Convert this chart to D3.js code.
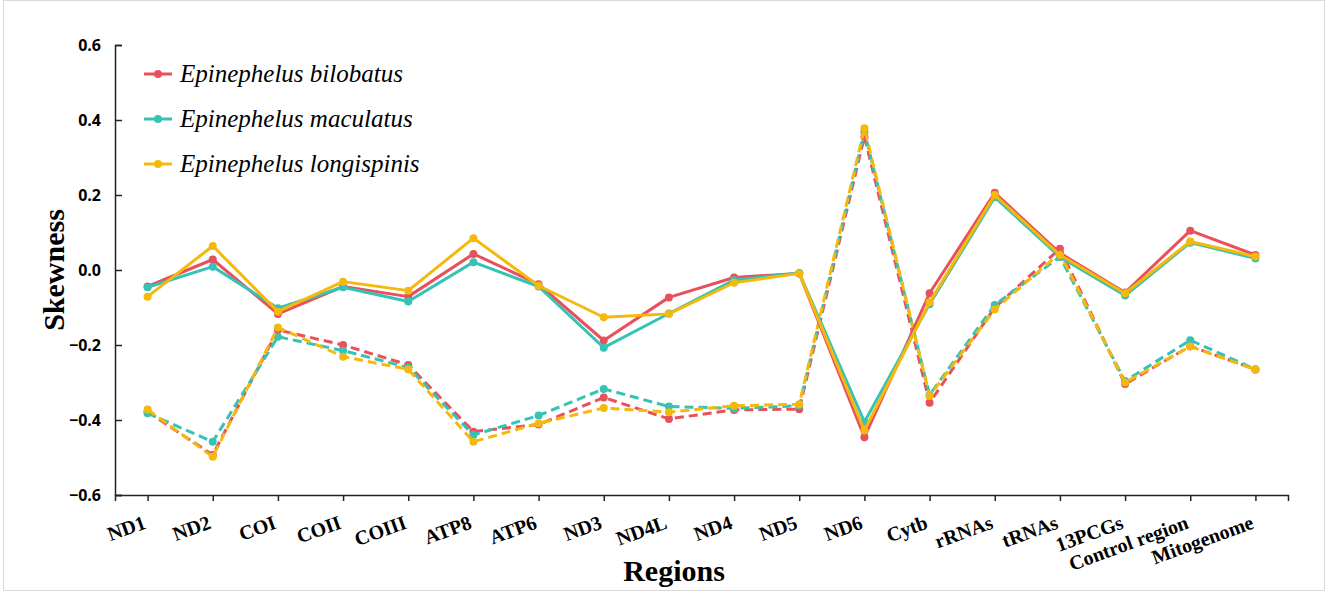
<!DOCTYPE html>
<html>
<head>
<meta charset="utf-8">
<script src="https://cdn.jsdelivr.net/npm/d3@7"></script>
<style>
  body { margin: 0; background: #fff; }
  #chart { width: 1328px; height: 591px; }
</style>
</head>
<body>
<div id="chart"></div>
<script>
// Regiões (eixo x)
const regions = ["ND1", "ND2", "COI", "COII", "COIII", "ATP8", "ATP6", "ND3", "ND4L", "ND4", "ND5", "ND6",
  "Cytb", "rRNAs", "tRNAs", "13PCGs", "Control region", "Mitogenome"];

const species = ["Epinephelus bilobatus", "Epinephelus maculatus", "Epinephelus longispinis"];

// Linhas contínuas (uma por espécie)
const solidBilobatus = [-0.044, 0.028, -0.117, -0.044, -0.071, 0.043, -0.038, -0.188, -0.073, -0.020, -0.009, -0.446,
  -0.062, 0.206, 0.045, -0.060, 0.105, 0.040];
const solidMaculatus = [-0.046, 0.009, -0.102, -0.046, -0.084, 0.021, -0.044, -0.207, -0.116, -0.027, -0.008, -0.405,
  -0.091, 0.194, 0.035, -0.068, 0.073, 0.031];
const solidLongispinis = [-0.071, 0.064, -0.111, -0.031, -0.055, 0.085, -0.042, -0.126, -0.117, -0.034, -0.009, -0.428,
  -0.086, 0.200, 0.040, -0.062, 0.076, 0.036];

// Linhas tracejadas
const dashBilobatus = [-0.378, -0.493, -0.160, -0.200, -0.253, -0.431, -0.412, -0.340, -0.397, -0.373, -0.371, 0.356,
  -0.354, -0.100, 0.057, -0.304, -0.203, -0.265];
const dashMaculatus = [-0.382, -0.458, -0.178, -0.215, -0.260, -0.440, -0.388, -0.317, -0.364, -0.369, -0.362, 0.369,
  -0.333, -0.093, 0.035, -0.296, -0.187, -0.265];
const dashLongispinis = [-0.372, -0.498, -0.153, -0.231, -0.265, -0.458, -0.409, -0.368, -0.379, -0.362, -0.358, 0.378,
  -0.336, -0.105, 0.045, -0.300, -0.204, -0.265];

const yTicks = [0.6, 0.4, 0.2, 0.0, -0.2, -0.4, -0.6];
const colors = ["#e8505b", "#36c2b4", "#f4b90c"];

const width = 1328;
const height = 591;
const marginLeft = 115, marginRight = 40, marginTop = 45, marginBottom = 96;

const svg = d3.select("#chart").append("svg")
  .attr("width", width)
  .attr("height", height)
  .attr("viewBox", [0, 0, width, height]);

// moldura cinza clara
svg.append("rect")
  .attr("x", 3.5).attr("y", 0.5)
  .attr("width", width - 7).attr("height", height - 1)
  .attr("fill", "#fff")
  .attr("stroke", "#d9d9d9");

const x = d3.scalePoint()
  .domain(regions)
  .range([marginLeft, width - marginRight])
  .padding(0.5);

const y = d3.scaleLinear()
  .domain([-0.6, 0.6])
  .range([height - marginBottom, marginTop]);

// eixo y
const yAxis = svg.append("g")
  .attr("transform", `translate(${marginLeft},0)`)
  .call(d3.axisRight(y).tickValues(yTicks).tickSize(7).tickFormat(d3.format(".1f")));
yAxis.select(".domain").attr("stroke", "#222").attr("stroke-width", 1.5);
yAxis.selectAll(".tick line").attr("stroke", "#222").attr("stroke-width", 1.5);
yAxis.selectAll(".tick text")
  .attr("x", -14)
  .attr("text-anchor", "end")
  .attr("font-family", "'Open Sans', sans-serif")
  .attr("font-weight", "bold")
  .attr("font-size", 16)
  .attr("fill", "#000");

// eixo x
const xAxis = svg.append("g")
  .attr("transform", `translate(0,${height - marginBottom})`)
  .call(d3.axisBottom(x).tickSize(6).tickSizeOuter(6));
xAxis.select(".domain").attr("stroke", "#222").attr("stroke-width", 1.5);
xAxis.selectAll(".tick line").attr("stroke", "#222").attr("stroke-width", 1.5);
xAxis.selectAll(".tick text")
  .attr("font-family", "'Liberation Serif', 'Times New Roman', serif")
  .attr("font-weight", "bold")
  .attr("font-size", 20)
  .attr("fill", "#000")
  .attr("text-anchor", "end")
  .attr("y", 0)
  .attr("dy", 0)
  .attr("transform", "translate(-1,33) rotate(-20)");

// títulos dos eixos
svg.append("text")
  .attr("transform", `translate(64,${(marginTop + height - marginBottom) / 2}) rotate(-90)`)
  .attr("text-anchor", "middle")
  .attr("font-family", "'Liberation Serif', 'Times New Roman', serif")
  .attr("font-weight", "bold")
  .attr("font-size", 30)
  .text("Skewness");

svg.append("text")
  .attr("x", 674)
  .attr("y", 581)
  .attr("text-anchor", "middle")
  .attr("font-family", "'Liberation Serif', 'Times New Roman', serif")
  .attr("font-weight", "bold")
  .attr("font-size", 30)
  .text("Regions");

const line = d3.line()
  .x((d, i) => x(regions[i]))
  .y(d => y(d));

const series = [
  { values: dashBilobatus, color: colors[0], dash: true },
  { values: dashMaculatus, color: colors[1], dash: true },
  { values: dashLongispinis, color: colors[2], dash: true },
  { values: solidBilobatus, color: colors[0], dash: false },
  { values: solidMaculatus, color: colors[1], dash: false },
  { values: solidLongispinis, color: colors[2], dash: false }
];

series.forEach(s => {
  const g = svg.append("g");
  g.append("path")
    .datum(s.values)
    .attr("d", line)
    .attr("fill", "none")
    .attr("stroke", s.color)
    .attr("stroke-width", 3)
    .attr("stroke-linejoin", "round")
    .attr("stroke-dasharray", s.dash ? "9,5" : null);
  g.selectAll("circle")
    .data(s.values)
    .join("circle")
    .attr("cx", (d, i) => x(regions[i]))
    .attr("cy", d => y(d))
    .attr("r", 4)
    .attr("fill", s.color);
});

// legenda
const legend = svg.append("g");
species.forEach((name, i) => {
  const ly = 74 + i * 45;
  legend.append("line")
    .attr("x1", 144).attr("x2", 172)
    .attr("y1", ly).attr("y2", ly)
    .attr("stroke", colors[i])
    .attr("stroke-width", 3);
  legend.append("circle")
    .attr("cx", 158).attr("cy", ly).attr("r", 4)
    .attr("fill", colors[i]);
  legend.append("text")
    .attr("x", 180).attr("y", ly + 8)
    .attr("font-family", "'Liberation Serif', 'Times New Roman', serif")
    .attr("font-style", "italic")
    .attr("font-size", 25)
    .text(name);
});
</script>
</body>
</html>
